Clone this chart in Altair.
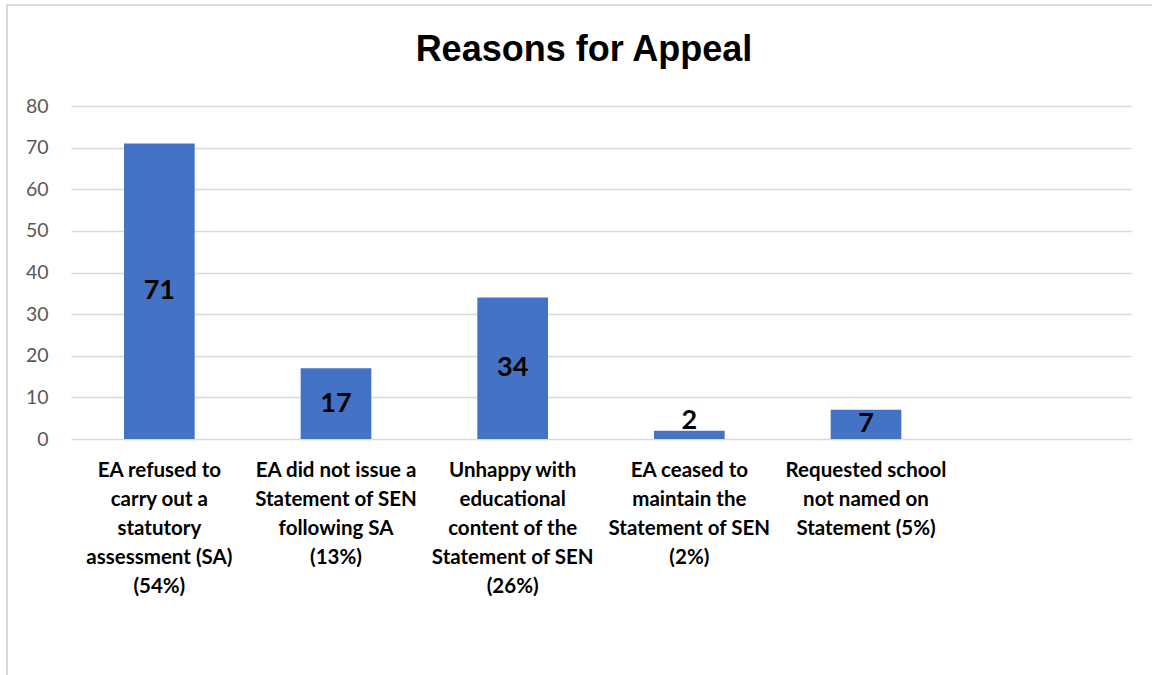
import altair as alt
import pandas as pd

categories = [
    "EA refused to\ncarry out a\nstatutory\nassessment (SA)\n(54%)",
    "EA did not issue a\nStatement of SEN\nfollowing SA\n(13%)",
    "Unhappy with\neducational\ncontent of the\nStatement of SEN\n(26%)",
    "EA ceased to\nmaintain the\nStatement of SEN\n(2%)",
    "Requested school\nnot named on\nStatement (5%)",
]
values = [71, 17, 34, 2, 7]
# Excel chart reserves one extra (empty) category slot on the right
domain = categories + [" "]
y_ticks = [0, 10, 20, 30, 40, 50, 60, 70, 80]

df = pd.DataFrame({"category": categories, "value": values})

W, H = 1060, 333
PAD_L, PAD_T = 71, 106

x_enc = alt.X(
    "category:N",
    sort=domain,
    scale=alt.Scale(domain=domain, paddingInner=0.6, paddingOuter=0.3),
    axis=alt.Axis(
        title=None,
        labelAngle=0,
        labelExpr="split(datum.label, '\\n')",
        labelFont="Lato",
        labelFontSize=20.5,
        labelFontWeight="bold",
        labelColor="#000000",
        labelLineHeight=29,
        labelPadding=21,
        labelBaseline="top",
        labelAlign="center",
        labelLimit=0,
        ticks=False,
        domain=False,
        grid=False,
    ),
)

y_enc = alt.Y(
    "value:Q",
    scale=alt.Scale(domain=[0, 80], nice=False),
    axis=alt.Axis(
        title=None,
        values=y_ticks,
        labelFont="Lato",
        labelFontSize=19.5,
        labelColor="#595959",
        labelPadding=23,
        ticks=False,
        domain=False,
        grid=True,
        gridColor="#D9D9D9",
        gridWidth=1.5,
    ),
)

base = alt.Chart(df)

frame = base.mark_rect(fill="transparent", stroke="#D9D9D9", strokeWidth=1.5).encode(
    x=alt.value(7 - PAD_L),
    x2=alt.value(1152 - PAD_L + 20),
    y=alt.value(5 - PAD_T),
    y2=alt.value(675 - PAD_T + 20),
)

bars = base.mark_bar(color="#4472C4").encode(x=x_enc, y=y_enc)

labels_mid = (
    base.transform_filter("datum.value >= 5")
    .transform_calculate(mid="datum.value / 2")
    .mark_text(font="Lato", fontSize=27, fontWeight="bold", color="#000000", baseline="middle")
    .encode(x=alt.X("category:N", sort=domain), y=alt.Y("mid:Q"), text="value:Q")
)

labels_top = (
    base.transform_filter("datum.value < 5")
    .mark_text(font="Lato", fontSize=27, fontWeight="bold", color="#000000", baseline="alphabetic", dy=-2)
    .encode(x=alt.X("category:N", sort=domain), y=alt.Y("value:Q"), text="value:Q")
)

chart = (
    alt.layer(frame, bars, labels_mid, labels_top)
    .properties(
        width=W,
        height=H,
        title=alt.TitleParams(
            "Reasons for Appeal",
            font="Liberation Sans",
            fontSize=36,
            fontWeight="bold",
            color="#000000",
            anchor="middle",
            baseline="alphabetic",
            dx=-17,
            offset=-93,
        ),
        padding={"left": PAD_L, "top": PAD_T, "right": 1152 - PAD_L - W, "bottom": 675 - PAD_T - H},
        autosize=alt.AutoSizeParams(type="none"),
        background="#FFFFFF",
    )
    .configure_view(strokeWidth=0)
)

chart.save("out.html", embed_options={"renderer": "svg", "actions": False})
